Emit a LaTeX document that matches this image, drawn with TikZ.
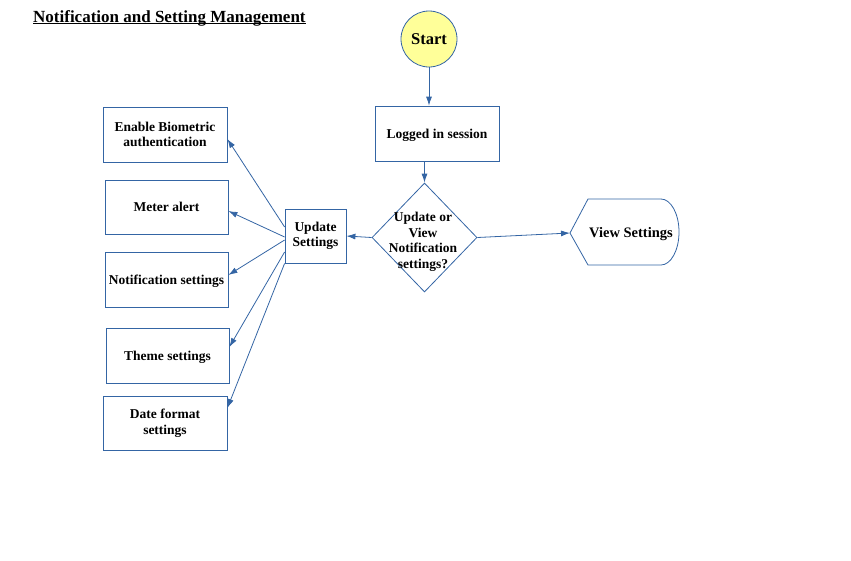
\documentclass[tikz,border=0pt]{standalone}
\usepackage{fontspec}
\setmainfont{Liberation Serif}
\usetikzlibrary{shapes.geometric,arrows.meta,calc}
\definecolor{lineblue}{HTML}{3465A4}
\definecolor{startyellow}{HTML}{FFFF99}

\begin{document}
\begin{tikzpicture}
  [
    x=1pt, y=-1pt,
    box/.style={draw=lineblue, line width=0.8pt, align=center, minimum width=124pt, minimum height=55pt, inner sep=1pt},
    txt/.style={align=center, font=\bfseries\fontsize{13.5}{15.5}\selectfont},
    conn/.style={draw=lineblue, line width=0.8pt, -{Latex[length=9pt,width=6pt]}}
  ]
  \useasboundingbox (0,0) rectangle (851,560);
  \node [anchor=base west, inner sep=0pt, font=\bfseries\fontsize{17}{20}\selectfont] (title) at (33,22) {Notification and Setting Management};
  \draw [line width=0.9pt] ([yshift=-1.8pt]title.base west) -- ([yshift=-1.8pt]title.base east);

  \node [circle, draw=lineblue, fill=startyellow, line width=0.8pt, minimum size=56pt, inner sep=0pt, font=\bfseries\fontsize{16.5}{19}\selectfont] (start) at (429,39) {Start};
  \node [box, txt, text depth=0pt] (logged) at (437,133.5) {Logged in session};
  \node [diamond, draw=lineblue, line width=0.8pt, minimum width=105pt, minimum height=109pt, inner sep=0pt] (dec) at (424.5,237.5) {};
  \node [txt] (dectxt) at (423,242) {Update or\\View\\Notification\\settings?};
  \node [box, txt, minimum width=61pt, minimum height=54pt] (us) at (315.5,236) {Update\\Settings};

  % view settings (display shape)
  \coordinate (vsl) at (570,233);
  \draw [lineblue, line width=0.8pt] (vsl) -- (588,199) -- (661,199)
    arc [start angle=90, end angle=-90, x radius=18pt, y radius=33pt] -- (588,265) -- cycle;
  \node [txt, font=\bfseries\fontsize{14.5}{17}\selectfont] (view) at (631,234.5) {View Settings};

  % settings boxes
  \node [box, txt] (bio) at (165,134.5) {Enable Biometric\\authentication};
  \node [box, txt, minimum width=123pt, minimum height=54pt] (meter) at (166.5,207) {Meter alert};
  \node [box, txt, text depth=0pt, minimum width=123pt] (notif) at (166.5,279.5) {Notification settings};
  \node [box, txt, text depth=0pt, minimum width=123pt] (theme) at (167.5,355.5) {Theme settings};
  \node [box, txt, minimum height=54pt] (date) at (165,423) {Date format\\settings};

  \draw [conn] (start.south) -- (start.south |- logged.north);
  \draw [conn] (dec.north |- logged.south) -- (dec.north);
  \draw [conn] (dec.west) -- (us.east);
  \draw [conn] (dec.east) -- (vsl);

  \draw [conn] ([yshift=9pt]us.west) -- ([yshift=-4.5pt]bio.east);
  \draw [conn] ([yshift=-1pt]us.west) -- ([yshift=-4pt]meter.east);
  \draw [conn] ([yshift=-4pt]us.west) -- ([yshift=4.5pt]notif.east);
  \draw [conn] ([yshift=-16pt]us.west) -- ([yshift=8.5pt]theme.east);
  \draw [conn] (us.south west) -- ([yshift=15pt]date.east);

\end{tikzpicture}
\end{document}
